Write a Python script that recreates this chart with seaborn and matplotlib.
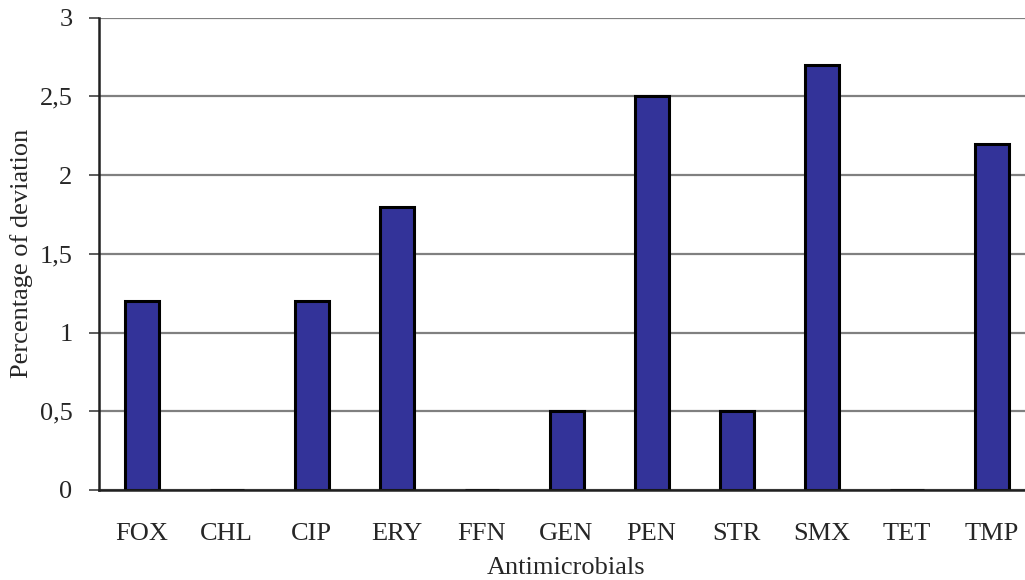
import matplotlib
matplotlib.use("Agg")
import matplotlib.pyplot as plt
from matplotlib.ticker import MultipleLocator, FixedLocator, FuncFormatter
import seaborn as sns
import pandas as pd

# Antimicrobial agents and their percentage of deviation
antimicrobials = ["FOX", "CHL", "CIP", "ERY", "FFN", "GEN", "PEN", "STR", "SMX", "TET", "TMP"]
deviation = [1.2, 0.0, 1.2, 1.8, 0.0, 0.5, 2.5, 0.5, 2.7, 0.0, 2.2]

df = pd.DataFrame({"Antimicrobials": antimicrobials, "Deviation": deviation})

sns.set_style("white")
plt.rcParams["font.family"] = ["Liberation Serif", "DejaVu Serif"]
plt.rcParams["font.size"] = 19

fig = plt.figure(figsize=(10.25, 5.8), dpi=100)
ax = fig.add_axes([99 / 1025, 90 / 580, 935 / 1025, 472.5 / 580])

sns.barplot(data=df, x="Antimicrobials", y="Deviation", ax=ax,
            color="#333399", saturation=1, width=0.4,
            edgecolor="black", linewidth=2.2, zorder=3)

ax.set_xlim(-0.5, len(antimicrobials) - 0.5)
ax.set_ylim(0, 3)

# horizontal gridlines every 0.5, decimal comma labels
ax.yaxis.set_major_locator(MultipleLocator(0.5))
ax.yaxis.set_major_formatter(FuncFormatter(
    lambda v, p: ("%g" % v).replace(".", ",")))
ax.grid(axis="y", color="#808080", linewidth=1.6, zorder=0)
ax.grid(axis="x", visible=False)

# category-boundary tick marks on the x axis
ax.xaxis.set_minor_locator(FixedLocator([i - 0.5 for i in range(len(antimicrobials) + 1)]))
ax.tick_params(axis="x", which="major", length=0, pad=23.5, labelsize=19)
ax.tick_params(axis="x", which="minor", length=7, width=1.2, color="#404040", direction="out")
ax.tick_params(axis="y", which="major", length=7, width=1.2, color="#404040",
               direction="out", pad=12, labelsize=19, left=True)

for side in ("top", "right"):
    ax.spines[side].set_visible(False)
for side in ("left", "bottom"):
    ax.spines[side].set_visible(True)
    ax.spines[side].set_color("#202020")
    ax.spines[side].set_linewidth(1.8)
    ax.spines[side].set_zorder(4)

ax.set_xlabel("Antimicrobials", fontsize=19, labelpad=9)
ax.set_ylabel("Percentage of deviation", fontsize=19)
ax.yaxis.set_label_coords((33 - 99) / 935, 0.5)

fig.savefig("out.png", dpi=100)
